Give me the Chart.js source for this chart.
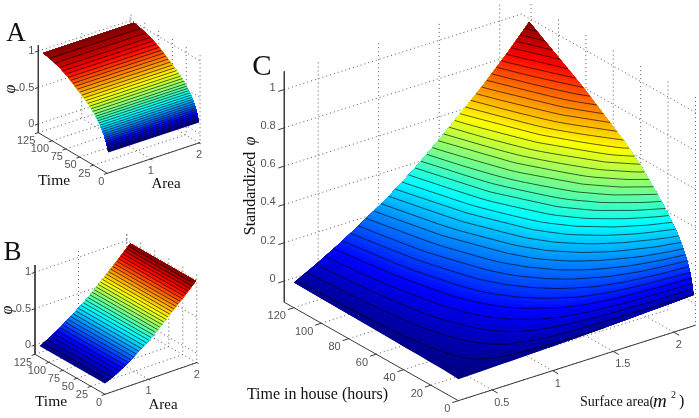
<!DOCTYPE html>
<html lang="en">
<head>
<meta charset="UTF-8">
<title>Standardized phi surfaces</title>
<script src="https://cdn.jsdelivr.net/npm/chart.js"></script>
<style>
    body { margin: 0; background: #ffffff; }
    canvas { display: block; }
</style>
</head>
<body>
<canvas id="surfaces" width="699" height="418"></canvas>
<script>
// tick labels
const timeTicksSmall = [0, 25, 50, 75, 100, 125];
const areaTicksSmall = [1, 2];
const phiTicksSmall = [0, 0.5, 1];
const timeTicksC = [0, 20, 40, 60, 80, 100, 120];
const areaTicksC = [0.5, 1, 1.5, 2];
const phiTicksC = [0, 0.2, 0.4, 0.6, 0.8, 1];

// panel A, phi only changes with time
const timesA = [0, 3, 8, 14, 24, 35, 47, 60, 73, 87, 102, 118];
const phiByTimeA = [0.16, 0.26, 0.37, 0.46, 0.575, 0.655, 0.73, 0.8, 0.87, 0.93, 0.97, 1];
const areasA = [0.12, 2.0];

// panel B, phi only changes with area
const areasB = [0.1, 0.33, 0.56, 0.78, 0.98, 1.2, 1.42, 1.7, 1.98];
const phiByAreaB = [0.02, 0.095, 0.19, 0.295, 0.39, 0.515, 0.65, 0.82, 1];
const timesB = [0, 117];

// panel C, one row per time
const areasC = [0.22, 0.4, 0.6, 0.8, 1, 1.2, 1.4, 1.6, 1.8, 2, 2.165];
const timesC = [0, 1, 2.4, 5, 8, 12, 20, 27, 38, 50, 81, 120];
const phiC0 = [0.001, 0.004, 0.008, 0.012, 0.016, 0.021, 0.026, 0.032, 0.038, 0.044, 0.05];
const phiC1 = [0.002, 0.008, 0.015, 0.023, 0.032, 0.041, 0.052, 0.064, 0.076, 0.089, 0.1];
const phiC2 = [0.003, 0.012, 0.023, 0.035, 0.049, 0.063, 0.08, 0.098, 0.116, 0.136, 0.154];
const phiC5 = [0.004, 0.017, 0.032, 0.049, 0.068, 0.088, 0.112, 0.137, 0.162, 0.19, 0.215];
const phiC8 = [0.005, 0.022, 0.041, 0.062, 0.085, 0.111, 0.14, 0.171, 0.204, 0.239, 0.27];
const phiC12 = [0.007, 0.026, 0.049, 0.075, 0.102, 0.133, 0.169, 0.206, 0.245, 0.288, 0.325];
const phiC20 = [0.008, 0.033, 0.062, 0.094, 0.129, 0.168, 0.213, 0.26, 0.31, 0.363, 0.41];
const phiC27 = [0.01, 0.038, 0.071, 0.109, 0.15, 0.195, 0.247, 0.302, 0.359, 0.42, 0.475];
const phiC38 = [0.011, 0.045, 0.085, 0.13, 0.178, 0.232, 0.294, 0.359, 0.427, 0.5, 0.565];
const phiC50 = [0.013, 0.052, 0.097, 0.148, 0.203, 0.264, 0.335, 0.41, 0.487, 0.571, 0.645];
const phiC81 = [0.016, 0.065, 0.122, 0.186, 0.255, 0.332, 0.421, 0.514, 0.612, 0.717, 0.81];
const phiC120 = [0.02, 0.079, 0.149, 0.228, 0.312, 0.406, 0.515, 0.629, 0.747, 0.876, 0.99];

const FILL_LEVELS = 128;
const CONTOURS = 38;

// where each 3d box sits on the page
const panels = [
    {
        ox: 107.3, oy: 173.3, ax: 48.3, ay: -16, tx: -0.552, ty: -0.325, zs: 73,
        aLim: [0.1, 2.02], tLim: [0, 125], zLim: [-0.119, 1.08], tick: [0.07, 3],
        times: timesA, areas: areasA, grid: timesA.map((t, i) => areasA.map(() => phiByTimeA[i])),
        timeTicks: timeTicksSmall, areaTicks: areaTicksSmall, phiTicks: phiTicksSmall,
        timeLabel: [-3, 8.3, 'right'], areaLabel: [0, 12, 'center'], phiLabel: [-4, 0], font: '11px "Liberation Sans"'
    },
    {
        ox: 105, oy: 394.3, ax: 48.3, ay: -16.7, tx: -0.56, ty: -0.32, zs: 72.7,
        aLim: [0.1, 2.0], tLim: [0, 125], zLim: [-0.128, 1.1], tick: [0.07, 3],
        times: timesB, areas: areasB, grid: timesB.map(() => phiByAreaB),
        timeTicks: timeTicksSmall, areaTicks: areaTicksSmall, phiTicks: phiTicksSmall,
        timeLabel: [-3, 8.3, 'right'], areaLabel: [0, 12, 'center'], phiLabel: [-4, 0], font: '11px "Liberation Sans"'
    },
    {
        ox: 458.3, oy: 400.7, ax: 121, ay: -38.5, tx: -1.37, ty: -0.775, zs: 191.5,
        aLim: [0.22, 2.18], tLim: [0, 127], zLim: [-0.111, 1.095], tick: [0.05, 4],
        times: timesC, areas: areasC,
        grid: [phiC0, phiC1, phiC2, phiC5, phiC8, phiC12, phiC20, phiC27, phiC38, phiC50, phiC81, phiC120],
        timeTicks: timeTicksC, areaTicks: areaTicksC, phiTicks: phiTicksC,
        timeLabel: [-8, 8.5, 'right'], areaLabel: [2, 13, 'left'], phiLabel: [-8.6, -2], font: '11px "Liberation Sans"'
    }
];

const serif = '"Liberation Serif"';
const pageLabels = [
    { text: 'A', x: 16, y: 34, font: '27px ' + serif },
    { text: 'B', x: 12.5, y: 253, font: '27px ' + serif },
    { text: 'C', x: 262, y: 67, font: '29px ' + serif },
    { text: 'Time', x: 54, y: 181, font: '15.5px ' + serif },
    { text: 'Area', x: 166, y: 184, font: '15px ' + serif },
    { text: 'Time', x: 51, y: 402, font: '15.5px ' + serif },
    { text: 'Area', x: 163, y: 405, font: '15px ' + serif },
    { text: 'φ', x: 11, y: 89, font: 'italic 16px ' + serif, rot: -90 },
    { text: 'φ', x: 8, y: 310, font: 'italic 16px ' + serif, rot: -90 },
    { text: 'Standardized', x: 251, y: 193.5, font: '16px ' + serif, rot: -90 },
    { text: 'φ', x: 251, y: 141, font: 'italic 16px ' + serif, rot: -90 },
    { text: 'Time in house (hours)', x: 317.5, y: 395, font: '16px ' + serif },
    { text: 'Surface area(', x: 580, y: 402, font: '14px ' + serif, align: 'left' },
    { text: 'm', x: 653, y: 402, font: 'italic 19px ' + serif, align: 'left' },
    { text: '2', x: 671, y: 395, font: '10px ' + serif, align: 'left' },
    { text: ')', x: 679, y: 402, font: '16px ' + serif, align: 'left' }
];

function project(p, a, t, z) {
    const da = a - p.aLim[0];
    return {
        x: p.ox + da * p.ax + t * p.tx,
        y: p.oy + da * p.ay + t * p.ty - (z - p.zLim[0]) * p.zs
    };
}

function jet(v) {
    const c = d => Math.round(255 * Math.min(1, Math.max(0, 1.5 - Math.abs(4 * v - d))));
    return 'rgb(' + c(3) + ',' + c(2) + ',' + c(1) + ')';
}

// phi rises with both area and time so a contour runs one way across the grid
function contourPoints(p, level) {
    const pts = [];
    const { areas, times, grid } = p;
    areas.forEach((a, ai) => {
        for (let ti = 0; ti < times.length - 1; ti++) {
            const v0 = grid[ti][ai], v1 = grid[ti + 1][ai];
            if (v0 < level && v1 >= level) {
                pts.push({ a, t: times[ti] + (level - v0) / (v1 - v0) * (times[ti + 1] - times[ti]) });
            }
        }
    });
    times.forEach((t, ti) => {
        for (let ai = 0; ai < areas.length - 1; ai++) {
            const v0 = grid[ti][ai], v1 = grid[ti][ai + 1];
            if (v0 < level && v1 >= level) {
                pts.push({ a: areas[ai] + (level - v0) / (v1 - v0) * (areas[ai + 1] - areas[ai]), t });
            }
        }
    });
    const aSpan = areas[areas.length - 1] - areas[0], tSpan = times[times.length - 1];
    pts.sort((m, n) => (m.a / aSpan - m.t / tSpan) - (n.a / aSpan - n.t / tSpan));
    return pts.map(q => project(p, q.a, q.t, level));
}

// the part of the surface at or above a level, contour first then round the edge
function regionPoints(p, level) {
    const { areas, times, grid } = p;
    const lastT = times.length - 1, lastA = areas.length - 1;
    const out = contourPoints(p, level);
    const add = (ai, ti) => {
        if (grid[ti][ai] >= level) out.push(project(p, areas[ai], times[ti], grid[ti][ai]));
    };
    for (let ai = 0; ai <= lastA; ai++) add(ai, 0);
    for (let ti = 0; ti <= lastT; ti++) add(lastA, ti);
    for (let ai = lastA; ai >= 0; ai--) add(ai, lastT);
    for (let ti = lastT; ti >= 0; ti--) add(0, ti);
    return out;
}

const datasets = [];
function addLine(data, style) {
    datasets.push(Object.assign({ data, showLine: true, pointRadius: 0, fill: false, borderWidth: 1, borderColor: '#000' }, style));
}

const dotted = { borderColor: '#555', borderWidth: 1, borderDash: [1, 3] };
const solid = { borderColor: '#3a3a3a', borderWidth: 1 };

panels.forEach(p => {
    const [a0, a1] = p.aLim, [t0, t1] = p.tLim, [z0, z1] = p.zLim;
    const P = (a, t, z) => project(p, a, t, z);

    p.phiTicks.forEach(z => {
        addLine([P(a0, t1, z), P(a1, t1, z), P(a1, t0, z)], dotted);
    });
    p.areaTicks.forEach(a => {
        addLine([P(a, t0, z0), P(a, t1, z0), P(a, t1, z1)], dotted);
    });
    p.timeTicks.forEach(t => {
        addLine([P(a0, t, z0), P(a1, t, z0), P(a1, t, z1)], dotted);
    });

    addLine([P(a0, t1, z1), P(a0, t1, z0), P(a0, t0, z0), P(a1, t0, z0)], solid);
    p.phiTicks.forEach(z => addLine([P(a0, t1, z), P(a0 - p.tick[0], t1, z)], solid));
    p.areaTicks.forEach(a => addLine([P(a, t0, z0), P(a, t0 - p.tick[1], z0)], solid));
    p.timeTicks.forEach(t => addLine([P(a0, t, z0), P(a0 - p.tick[0], t, z0)], solid));

    const flat = p.grid.flat();
    const lo = Math.min(...flat), hi = Math.max(...flat);
    for (let k = 0; k < FILL_LEVELS; k++) {
        const level = lo + k / FILL_LEVELS * (hi - lo);
        const color = jet((k + 0.5) / FILL_LEVELS);
        addLine(regionPoints(p, level), { fill: 'shape', backgroundColor: color, borderWidth: 0 });
    }
    for (let k = 1; k < CONTOURS; k++) {
        const level = lo + k / CONTOURS * (hi - lo);
        addLine(contourPoints(p, level), { borderColor: 'rgba(0,0,0,0.8)', borderWidth: 0.8, tension: 0.3 });
    }
});

// later datasets paint on top
datasets.forEach((d, i) => { d.order = datasets.length - i; });

const textPlugin = {
    id: 'boxText',
    afterDatasetsDraw(chart) {
        const { ctx, scales } = chart;
        const put = (text, x, y, font, color, align, rot) => {
            ctx.save();
            ctx.translate(scales.x.getPixelForValue(x), scales.y.getPixelForValue(y));
            if (rot) ctx.rotate(rot * Math.PI / 180);
            ctx.font = font;
            ctx.fillStyle = color;
            ctx.textAlign = align || 'center';
            ctx.textBaseline = 'middle';
            ctx.fillText(text, 0, 0);
            ctx.restore();
        };
        panels.forEach(p => {
            const a0 = p.aLim[0], t1 = p.tLim[1], z0 = p.zLim[0];
            p.timeTicks.forEach(t => {
                const q = project(p, a0, t, z0);
                put(String(t), q.x + p.timeLabel[0], q.y + p.timeLabel[1], p.font, '#555', p.timeLabel[2]);
            });
            p.areaTicks.forEach(a => {
                const q = project(p, a, 0, z0);
                put(String(a), q.x + p.areaLabel[0], q.y + p.areaLabel[1], p.font, '#555', p.areaLabel[2]);
            });
            p.phiTicks.forEach(z => {
                const q = project(p, a0, t1, z);
                put(String(z), q.x + p.phiLabel[0], q.y + p.phiLabel[1], p.font, '#555', 'right');
            });
        });
        pageLabels.forEach(l => put(l.text, l.x, l.y, l.font, '#111', l.align, l.rot));
    }
};

new Chart(document.getElementById('surfaces').getContext('2d'), {
    type: 'scatter',
    data: { datasets },
    options: {
        responsive: false,
        animation: false,
        events: [],
        layout: { padding: 0 },
        plugins: { legend: { display: false }, tooltip: { enabled: false } },
        scales: {
            x: { type: 'linear', min: 0, max: 699, display: false },
            y: { type: 'linear', min: 0, max: 418, reverse: true, display: false }
        }
    },
    plugins: [textPlugin]
});
</script>
</body>
</html>
